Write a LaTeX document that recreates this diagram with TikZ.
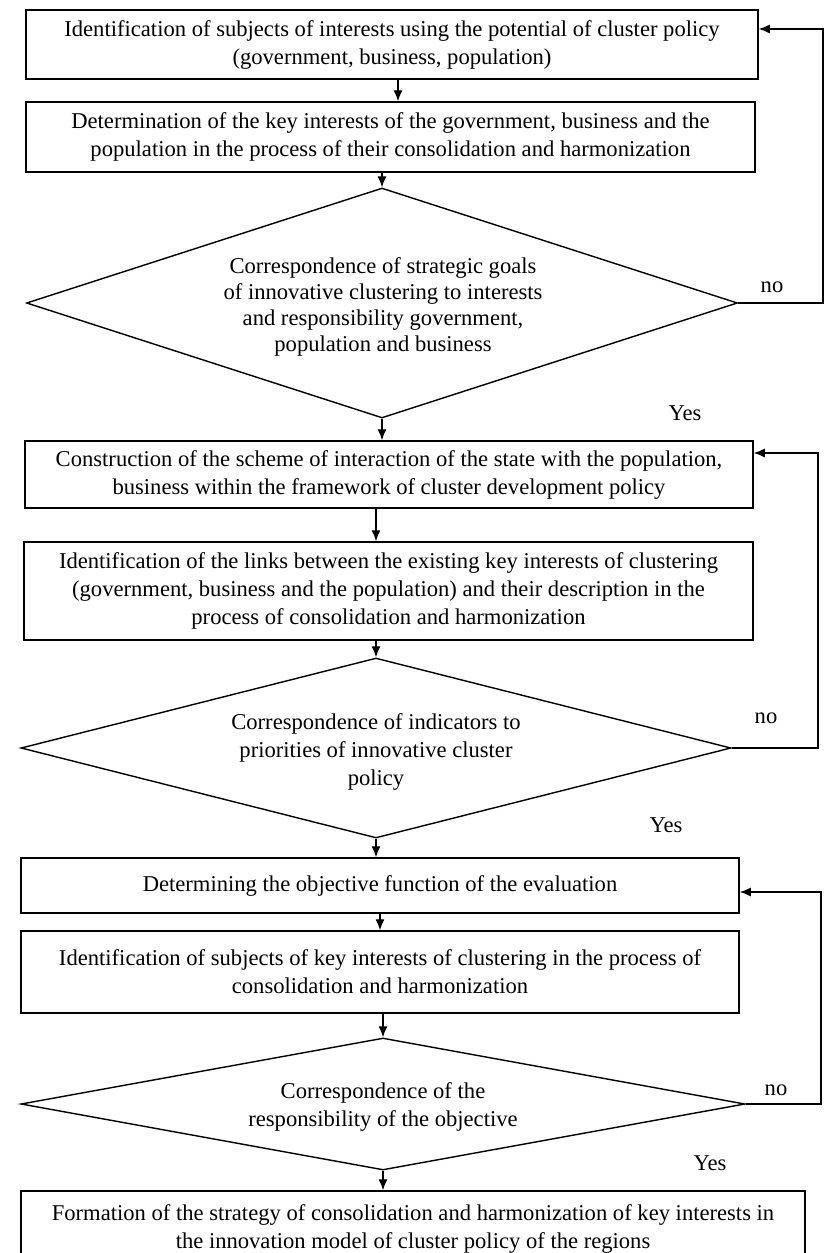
\documentclass[tikz,border=0pt]{standalone}
\usepackage{fontspec}
\setmainfont{Liberation Serif}
\usetikzlibrary{shapes.geometric,arrows.meta}
\begin{document}
\begin{tikzpicture}[x=1pt,y=-1pt,
  every node/.style={font=\fontsize{22.6}{28}\selectfont},
  box/.style={draw,line width=1.5pt,inner sep=0pt,align=center},
  dia/.style={draw,diamond,line width=1.4pt,inner sep=0pt},
  dtext/.style={align=center,inner sep=0pt},
  arr/.style={line width=1.3pt,-{Latex[length=11pt,width=9pt]}},
  lbl/.style={inner sep=0pt}]
\useasboundingbox (0,0) rectangle (825,1253);
\fill[white] (0,0) rectangle (825,1253);

% boxes
\node[box,minimum width=732,minimum height=69] (b1) at (392,44.5)
  {Identification of subjects of interests using the potential of cluster policy\\(government, business, population)};
\node[box,minimum width=729,minimum height=70] (b2) at (390.5,137)
  {Determination of the key interests of the government, business and the\\population in the process of their consolidation and harmonization};
\node[box,minimum width=728,minimum height=67] (b3) at (389,474.5)
  {Construction of the scheme of interaction of the state with the population,\\business within the framework of cluster development policy};
\node[box,minimum width=729,minimum height=98] (b4) at (388.5,591)
  {Identification of the links between the existing key interests of clustering\\(government, business and the population) and their description in the\\process of consolidation and harmonization};
\node[box,minimum width=718,minimum height=55] (b5) at (380,885.5)
  {Determining the objective function of the evaluation};
\node[box,minimum width=718,minimum height=82] (b6) at (380,972)
  {Identification of subjects of key interests of clustering in the process of\\consolidation and harmonization};
\node[box,minimum width=784,minimum height=75] (b7) at (413,1228.5)
  {Formation of the strategy of consolidation and harmonization of key interests in\\the innovation model of cluster policy of the regions};

% diamonds
\node[dia,minimum width=711,minimum height=230] (d1) at (382,303) {};
\node[dtext,font=\fontsize{22.6}{26}\selectfont] (t1) at (383,307)
  {Correspondence of strategic goals\\of innovative clustering to interests\\and responsibility government,\\population and business};
\node[dia,minimum width=710,minimum height=180] (d2) at (376,748) {};
\node[dtext] (t2) at (376,752)
  {Correspondence of indicators to\\priorities of innovative cluster\\policy};
\node[dia,minimum width=724,minimum height=132] (d3) at (383,1104) {};
\node[dtext] (t3) at (383,1107)
  {Correspondence of the\\responsibility of the objective};

% main flow arrows
\draw[arr] ([xshift=6]b1.south) -- ([xshift=6]b1.south |- b2.north);
\draw[arr] (b2.south -| d1.north) -- (d1.north);
\draw[arr] (d1.south) -- (d1.south |- b3.north);
\draw[arr] (b3.south -| d2.north) -- (b4.north -| d2.north);
\draw[arr] (b4.south -| d2.north) -- (d2.north);
\draw[arr] (d2.south) -- (d2.south |- b5.north);
\draw[arr] (b5.south) -- (b6.north);
\draw[arr] (b6.south -| d3.north) -- (d3.north);
\draw[arr] (d3.south) -- (d3.south |- b7.north);

% feedback loops
\coordinate (f1) at (823,29);
\coordinate (f2) at (818,453);
\coordinate (f3) at (821,892);
\draw[arr] (d1.east) -| (f1) -- (f1 -| b1.east);
\draw[arr] (d2.east) -| (f2) -- (f2 -| b3.east);
\draw[arr] (d3.east) -| (f3) -- (f3 -| b5.east);

% labels
\node[lbl] (n1) at (772,287) {no};
\node[lbl] (n2) at (766,718) {no};
\node[lbl] (n3) at (776,1090) {no};
\node[lbl] (y1) at (685,413) {Yes};
\node[lbl] (y2) at (666,825) {Yes};
\node[lbl] (y3) at (710,1163) {Yes};
\end{tikzpicture}
\end{document}
